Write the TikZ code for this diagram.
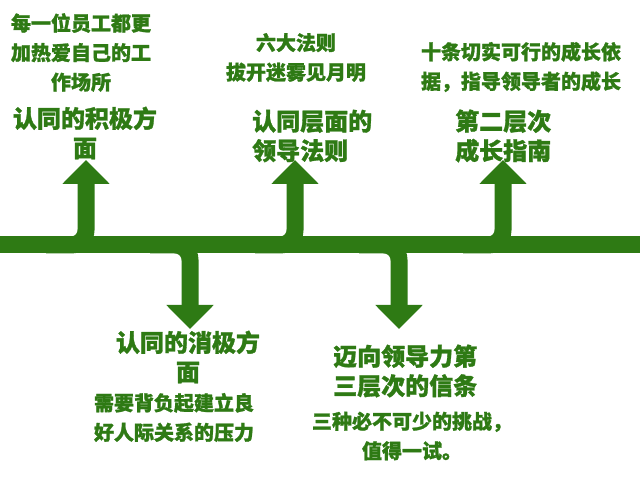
\documentclass[tikz,border=0pt]{standalone}
\usepackage{fontspec}
\setmainfont{Noto Sans CJK SC}[BoldFeatures={FakeBold=1.2}]
\usetikzlibrary{arrows.meta}
\definecolor{LeafGreen}{HTML}{2E7A14}
\tikzset{
  trunk/.style={draw=LeafGreen, line width=17pt},
  branch/.style={draw=LeafGreen, line width=17pt, rounded corners=15pt,
    -{Triangle[width=46pt, length=24pt]}},
  headtxt/.style={text=LeafGreen, inner sep=0pt,
    font=\fontsize{24}{29.5}\selectfont\bfseries},
  notetxt/.style={text=LeafGreen, inner sep=0pt, align=center,
    font=\fontsize{20}{29.5}\selectfont\bfseries},
}

\begin{document}
\begin{tikzpicture}[x=1pt, y=-1pt]
  \useasboundingbox (0,0) rectangle (640,478);
  % timeline
  \coordinate (L) at (0,245);
  \coordinate (R) at (640,245);
  \draw[trunk] (L) -- (R);
  % branches: up at 86/295/503, down at 190/399
  \foreach \n/\x/\y in {1/86/160, 2/295/160, 3/503/160, 4/190/329, 5/399/329} {
    \coordinate (s\n) at ({\x-40},245);
    \coordinate (j\n) at (\x,245);
    \coordinate (t\n) at (\x,\y);
    \draw[branch] (s\n) -- (j\n) -- (t\n);
  }
  % texts above
  \node[notetxt] (note1) at (81,52.5) {每一位员工都更\\加热爱自己的工\\作场所};
  \node[headtxt, align=center] (head1) at (85,133) {认同的积极方\\面};
  \node[notetxt] (note2) at (296,57.5) {六大法则\\拔开迷雾见月明};
  \node[headtxt, align=left, anchor=west] (head2) at (252,136) {认同层面的\\领导法则};
  \node[notetxt] (note3) at (521,67) {十条切实可行的成长依\\据，指导领导者的成长};
  \node[headtxt, align=left, anchor=west] (head3) at (455,136) {第二层次\\成长指南};
  % texts below
  \node[headtxt, align=center] (head4) at (188,357) {认同的消极方\\面};
  \node[notetxt] (note4) at (174,417.5) {需要背负起建立良\\好人际关系的压力};
  \node[headtxt, align=left, anchor=west] (head5) at (333,371) {迈向领导力第\\三层次的信条};
  \node[notetxt] (note5) at (412,436) {三种必不可少的挑战，\\值得一试。};
\end{tikzpicture}
\end{document}
